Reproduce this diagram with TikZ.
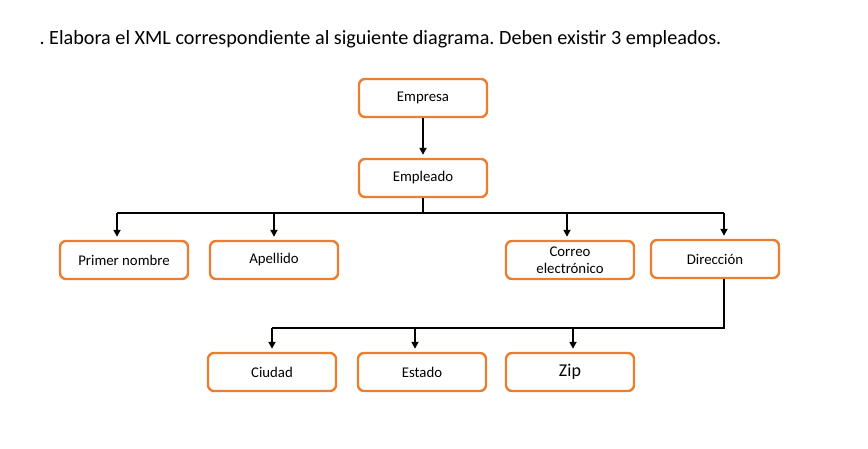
\documentclass[tikz,border=0pt]{standalone}
\usepackage{fontspec}
\setmainfont{Carlito}
\usetikzlibrary{arrows.meta}
\definecolor{boxorange}{RGB}{237,125,49}
\frenchspacing
\tikzset{
  campo/.style={draw=boxorange,line width=2.4pt,rounded corners=6pt,
    minimum width=128pt,minimum height=38pt,align=center,
    font=\fontsize{14.8}{16}\selectfont,fill=white},
  flecha/.style={line width=2pt,-{Triangle[length=7pt,width=7pt]},shorten >=3pt},
  linea/.style={line width=2pt}
}
\begin{document}
\begin{tikzpicture}[x=1pt,y=-1pt]
            \useasboundingbox (0,0) rectangle (868,449);
            \node[anchor=base west,font=\fontsize{20.2}{22}\selectfont] (titulo) at (36,45) {. Elabora el XML correspondiente al siguiente diagrama. Deben existir 3 empleados.};
            % nodos
            \node[campo] (empresa) at (423,98) {Empresa};
            \node[campo] (empleado) at (423,178) {Empleado};
            \node[campo] (nombre) at (124,260) {Primer nombre};
            \node[campo] (apellido) at (274,260) {Apellido};
            \node[campo,font=\fontsize{14.8}{17}\selectfont] (correo) at (570,260) {Correo\\electrónico};
            \node[campo] (direccion) at (715,259) {Dirección};
            \node[campo] (ciudad) at (272,372) {Ciudad};
            \node[campo] (estado) at (422,372) {Estado};
            \node[campo,font=\fontsize{18}{20}\selectfont] (zip) at (570,372) {Zip};
            \coordinate (bar1) at (423,213);
            \coordinate (bar2) at (724,328);
            % conectores
            \draw[flecha] (empresa) -- (empleado);
            \draw[linea] (empleado.south) -- (bar1);
            \draw[linea] ([xshift=-7pt]nombre.north |- bar1) -- ([xshift=9pt]direccion.north |- bar1);
            \draw[flecha] ([xshift=-7pt]nombre.north |- bar1) -- ([xshift=-7pt]nombre.north);
            \draw[flecha] (apellido.north |- bar1) -- (apellido.north);
            \draw[flecha] ([xshift=-3pt]correo.north |- bar1) -- ([xshift=-3pt]correo.north);
            \draw[flecha] ([xshift=9pt]direccion.north |- bar1) -- ([xshift=9pt]direccion.north);
            \draw[linea] ([xshift=9pt]direccion.south) -- (bar2) -- (ciudad.north |- bar2);
            \draw[flecha] (ciudad.north |- bar2) -- (ciudad.north);
            \draw[flecha] ([xshift=-7pt]estado.north |- bar2) -- ([xshift=-7pt]estado.north);
            \draw[flecha] ([xshift=3pt]zip.north |- bar2) -- ([xshift=3pt]zip.north);
        \end{tikzpicture}
\end{document}
